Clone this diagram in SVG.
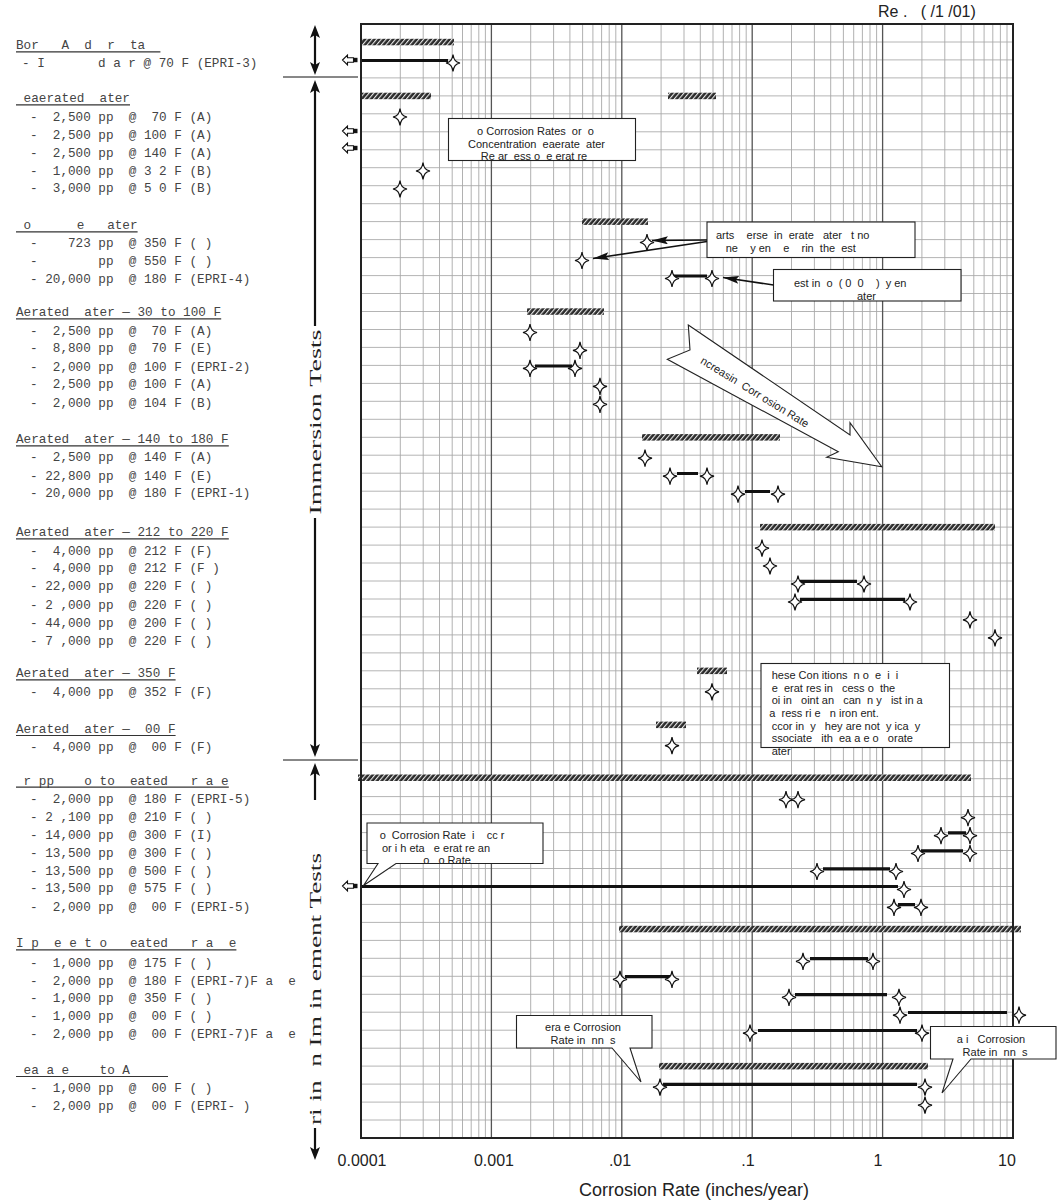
<svg xmlns="http://www.w3.org/2000/svg" width="1060" height="1202" viewBox="0 0 1060 1202">
<style>
.m{font-family:"Liberation Mono","DejaVu Sans Mono",monospace;font-size:12.67px;fill:#444;white-space:pre}
.s{font-family:"Liberation Sans",Arial,sans-serif;font-size:11px;fill:#222;white-space:pre}
.tk{font-family:"Liberation Sans",Arial,sans-serif;font-size:16px;fill:#222;text-anchor:middle}
.ttl{font-family:"Liberation Sans",Arial,sans-serif;font-size:18px;fill:#222;text-anchor:middle}
.ax{font-family:"Liberation Serif","Times New Roman",serif;font-size:16px;fill:#222;text-anchor:middle;white-space:pre}
.ul{stroke:#333;stroke-width:1.2}
.hg{stroke:#b4b4b4;stroke-width:1;fill:none}
.vg{stroke:#a8a8a8;stroke-width:0.9;fill:none}
.mj{stroke:#555;stroke-width:1.3;fill:none}
.bar{fill:url(#hatch)}
.dl{stroke:#111;stroke-width:3.2;fill:none}
.box{fill:#fff;stroke:#222;stroke-width:1.1}
.con{stroke:#111;stroke-width:1.6;fill:none;marker-end:url(#ah)}
.va{stroke:#111;stroke-width:2.2}
</style>
<defs>
<pattern id="hatch" width="3.6" height="10" patternUnits="userSpaceOnUse" patternTransform="rotate(40)">
<rect width="3.6" height="10" fill="#2b2b2b"/><rect width="1.1" height="10" fill="#fff" opacity="0.9"/>
</pattern>
<path id="dm" d="M0,-8.5 C0.8,-3 2.5,-1 7,0 C2.5,1 0.8,3 0,8.5 C-0.8,3 -2.5,1 -7,0 C-2.5,-1 -0.8,-3 0,-8.5Z" fill="#fff" stroke="#111" stroke-width="1.2"/>
<g id="la"><path d="M-8,0 L-3,-5 L-3,-2.2 L3,-2.2 L3,2.2 L-3,2.2 L-3,5 Z" fill="#fff" stroke="#111" stroke-width="1.1"/><rect x="3.5" y="-2.2" width="3.5" height="4.4" fill="#111"/></g>
<marker id="ah" viewBox="0 0 16 8" refX="16" refY="4" markerWidth="16" markerHeight="8" markerUnits="userSpaceOnUse" orient="auto"><path d="M0,0 L16,4 L0,8 L3,4 Z" fill="#111"/></marker>
</defs>
<rect width="1060" height="1202" fill="#fff"/>

<g id="grid">
<path class="hg" d="M361 42H1013M361 59.9H1013M361 77.9H1013M361 95.9H1013M361 113.8H1013M361 131.8H1013M361 149.8H1013M361 167.7H1013M361 185.7H1013M361 203.7H1013M361 221.6H1013M361 239.6H1013M361 257.6H1013M361 275.6H1013M361 293.5H1013M361 311.5H1013M361 329.5H1013M361 347.4H1013M361 365.4H1013M361 383.4H1013M361 401.3H1013M361 419.3H1013M361 437.3H1013M361 455.2H1013M361 473.2H1013M361 491.2H1013M361 509.1H1013M361 527.1H1013M361 545.1H1013M361 563H1013M361 581H1013M361 599H1013M361 616.9H1013M361 634.9H1013M361 652.9H1013M361 670.8H1013M361 688.8H1013M361 706.8H1013M361 724.8H1013M361 742.7H1013M361 760.7H1013M361 778.7H1013M361 796.6H1013M361 814.6H1013M361 832.6H1013M361 850.5H1013M361 868.5H1013M361 886.5H1013M361 904.4H1013M361 922.4H1013M361 940.4H1013M361 958.3H1013M361 976.3H1013M361 994.3H1013M361 1012.2H1013M361 1030.2H1013M361 1048.2H1013M361 1066.1H1013M361 1084.1H1013M361 1102.1H1013M361 1120H1013"/>
<path class="vg" d="M400.3 24V1138M423.2 24V1138M439.5 24V1138M452.2 24V1138M462.5 24V1138M471.2 24V1138M478.8 24V1138M485.4 24V1138M530.7 24V1138M553.6 24V1138M569.9 24V1138M582.6 24V1138M592.9 24V1138M601.6 24V1138M609.2 24V1138M615.8 24V1138M661.1 24V1138M684 24V1138M700.3 24V1138M713 24V1138M723.3 24V1138M732 24V1138M739.6 24V1138M746.2 24V1138M791.5 24V1138M814.4 24V1138M830.7 24V1138M843.4 24V1138M853.7 24V1138M862.4 24V1138M870 24V1138M876.6 24V1138M921.9 24V1138M944.8 24V1138M961.1 24V1138M973.8 24V1138M984.1 24V1138M992.8 24V1138M1000.4 24V1138M1007 24V1138"/>
<path class="mj" d="M491.4 24V1138M621.8 24V1138M752.2 24V1138M882.6 24V1138"/>
</g>

<g id="bars">
<rect class="bar" x="361" y="38.8" width="93" height="6.5"/>
<rect class="bar" x="361" y="92.7" width="70" height="6.5"/>
<rect class="bar" x="668" y="92.7" width="48" height="6.5"/>
<rect class="bar" x="582" y="218.4" width="66" height="6.5"/>
<rect class="bar" x="527" y="308.3" width="77" height="6.5"/>
<rect class="bar" x="642" y="434.1" width="138" height="6.5"/>
<rect class="bar" x="760" y="523.9" width="235" height="6.5"/>
<rect class="bar" x="697" y="667.6" width="30" height="6.5"/>
<rect class="bar" x="656" y="721.6" width="30" height="6.5"/>
<rect class="bar" x="358" y="774.5" width="613" height="6.5"/>
<rect class="bar" x="619" y="925.8" width="402" height="6.5"/>
<rect class="bar" x="659" y="1062.9" width="269" height="6.5"/>
</g>

<g id="ranges">
<path class="dl" d="M361 60.5H448M673 276H707M535 366H572M677 473.5H698M745 491.5H770M800 581.3H857M800 599.3H905M948 832.8H966M921 850.8H963M823 868.8H890M361 886.5H898M898 904.7H915M810 958.6H868M625 976.6H670M795 994.6H887M908 1012.5H1007M758 1030.5H917M663 1084.4H917"/>
</g>

<g id="points">
<use href="#dm" x="453" y="63"/>
<use href="#dm" x="400" y="117"/>
<use href="#dm" x="423" y="171"/>
<use href="#dm" x="400" y="189"/>
<use href="#dm" x="647" y="242.5"/>
<use href="#dm" x="582" y="260.5"/>
<use href="#dm" x="672" y="278.5"/>
<use href="#dm" x="712" y="278.5"/>
<use href="#dm" x="530" y="332.5"/>
<use href="#dm" x="580" y="350.4"/>
<use href="#dm" x="530" y="368.4"/>
<use href="#dm" x="575" y="368.4"/>
<use href="#dm" x="600" y="386.4"/>
<use href="#dm" x="600" y="404.3"/>
<use href="#dm" x="645" y="458.2"/>
<use href="#dm" x="670" y="476.2"/>
<use href="#dm" x="707" y="476.2"/>
<use href="#dm" x="738" y="494.2"/>
<use href="#dm" x="778" y="494.2"/>
<use href="#dm" x="762" y="548.1"/>
<use href="#dm" x="770" y="566"/>
<use href="#dm" x="798" y="584"/>
<use href="#dm" x="864" y="584"/>
<use href="#dm" x="795" y="602"/>
<use href="#dm" x="910" y="602"/>
<use href="#dm" x="970" y="619.9"/>
<use href="#dm" x="995" y="637.9"/>
<use href="#dm" x="712" y="691.8"/>
<use href="#dm" x="672" y="745.7"/>
<use href="#dm" x="786" y="799.6"/>
<use href="#dm" x="798" y="799.6"/>
<use href="#dm" x="968" y="817.6"/>
<use href="#dm" x="941" y="835.6"/>
<use href="#dm" x="970" y="835.6"/>
<use href="#dm" x="918" y="853.5"/>
<use href="#dm" x="970" y="853.5"/>
<use href="#dm" x="817" y="871.5"/>
<use href="#dm" x="896" y="871.5"/>
<use href="#dm" x="904" y="889.5"/>
<use href="#dm" x="894" y="907.4"/>
<use href="#dm" x="921" y="907.4"/>
<use href="#dm" x="803" y="961.3"/>
<use href="#dm" x="873" y="961.3"/>
<use href="#dm" x="620" y="979.3"/>
<use href="#dm" x="672" y="979.3"/>
<use href="#dm" x="789" y="997.3"/>
<use href="#dm" x="899" y="997.3"/>
<use href="#dm" x="900" y="1015.2"/>
<use href="#dm" x="1019" y="1015.2"/>
<use href="#dm" x="750" y="1033.2"/>
<use href="#dm" x="922" y="1033.2"/>
<use href="#dm" x="660" y="1087.1"/>
<use href="#dm" x="925" y="1087.1"/>
<use href="#dm" x="925" y="1105.1"/>
<use href="#la" x="350.5" y="60"/>
<use href="#la" x="350.5" y="131"/>
<use href="#la" x="350.5" y="148"/>
<use href="#la" x="350.5" y="886"/>
</g>

<rect x="361" y="24" width="652" height="1114" fill="none" stroke="#222" stroke-width="2"/>

<g id="note-deaerated">
<rect class="box" x="448.5" y="118.5" width="187" height="42"/>
<text class="s" x="535.5" y="134.7" text-anchor="middle">o Corrosion Rates  or  o</text>
<text class="s" x="536.5" y="148" text-anchor="middle">Concentration  eaerate  ater</text>
<text class="s" x="534" y="160" text-anchor="middle">Re ar  ess o  e erat re</text>
</g>

<g id="note-parts">
<rect class="box" x="707" y="222" width="208" height="35.5"/>
<text class="s" x="716" y="239">arts    erse  in  erate   ater   t no</text>
<text class="s" x="725.7" y="252">ne    y en    e    rin  the  est</text>
</g>

<g id="note-testing">
<rect class="box" x="773.5" y="269.5" width="187.5" height="31.5"/>
<text class="s" x="794" y="287">est in  o  ( 0  0    )  y en</text>
<text class="s" x="857" y="300.3">ater</text>
</g>

<g id="trend-arrow">
<polygon points="688.3,325 850,435 850,422.7 881.7,466.7 826.7,457.3 838.3,451.7 667.3,359.3 690,350" fill="#fff" stroke="#222" stroke-width="1.1"/>
<text class="s" x="0" y="4" text-anchor="middle" transform="translate(755,392) rotate(31.5)">ncreasin  Corr osion Rate</text>
</g>

<g id="note-conditions">
<rect class="box" x="761" y="663.5" width="188.5" height="84"/>
<text class="s" x="771.7" y="679">hese Con itions  n o  e  i  i</text>
<text class="s" x="771.7" y="691.5">e  erat res in   cess o  the</text>
<text class="s" x="771.7" y="704.2">oi in   oint an   can  n y   ist in a</text>
<text class="s" x="769.3" y="716.8">a  ress ri e   n iron ent.</text>
<text class="s" x="771.7" y="729.5">ccor in  y   hey are not  y ica  y</text>
<text class="s" x="771.7" y="742.1">ssociate   ith  ea a e o   orate</text>
<text class="s" x="771.7" y="754.8">ater</text>
</g>

<g id="note-nocorrosion">
<path class="box" d="M367,823 H543 V863.5 H396 L363.5,885.5 L378,863.5 H367 Z"/>
<text class="s" x="442" y="839" text-anchor="middle">o  Corrosion Rate  i    cc r</text>
<text class="s" x="436" y="851.5" text-anchor="middle">or i h eta   e erat re an</text>
<text class="s" x="447" y="863.5" text-anchor="middle">o   o Rate</text>
</g>

<g id="note-average">
<path class="box" d="M516.5,1015.5 H652 V1048 H630 L641,1082 L612,1048 H516.5 Z"/>
<text class="s" x="583" y="1031" text-anchor="middle">era e Corrosion</text>
<text class="s" x="583" y="1044" text-anchor="middle">Rate in  nn  s</text>
</g>

<g id="note-maximum">
<path class="box" d="M930.5,1026.5 H1056 V1059 H971 L942,1093 L953,1059 H930.5 Z"/>
<text class="s" x="991" y="1043" text-anchor="middle">a i   Corrosion</text>
<text class="s" x="995" y="1055.5" text-anchor="middle">Rate in  nn  s</text>
</g>

<g id="connectors">
<path class="con" d="M707,240 L652,240.5"/>
<path class="con" d="M707,241.5 L593,258.5"/>
<path class="con" d="M773.5,285 L723,277.5"/>
</g>

<g id="axis-x">
<text class="tk" x="362" y="1166">0.0001</text>
<text class="tk" x="494" y="1166">0.001</text>
<text class="tk" x="620" y="1166">.01</text>
<text class="tk" x="748" y="1166">.1</text>
<text class="tk" x="878" y="1166">1</text>
<text class="tk" x="1007" y="1166">10</text>
<text class="ttl" x="694" y="1196">Corrosion Rate (inches/year)</text>
</g>

<g id="revision">
<text x="878" y="17" style="font-family:'Liberation Sans',Arial,sans-serif;font-size:16px;fill:#222;white-space:pre">Re .   ( /1 /01)</text>
</g>

<g id="axis-y">
<line x1="283" y1="77" x2="358" y2="77" stroke="#111" stroke-width="1"/>
<line x1="283" y1="760" x2="358" y2="760" stroke="#111" stroke-width="1"/>
<line class="va" x1="315" y1="32" x2="315" y2="68"/>
<polygon points="315,25 310,38 315,35 320,38" fill="#111"/>
<polygon points="315,75 310,62 315,65 320,62" fill="#111"/>
<line class="va" x1="315" y1="87" x2="315" y2="326"/>
<line class="va" x1="315" y1="518" x2="315" y2="750"/>
<polygon points="315,80 310,93 315,90 320,93" fill="#111"/>
<polygon points="315,757 310,744 315,747 320,744" fill="#111"/>
<text class="ax" x="0" y="0" transform="translate(320.5,422) rotate(-90)" textLength="185" lengthAdjust="spacingAndGlyphs">Immersion Tests</text>
<line class="va" x1="315" y1="770" x2="315" y2="800"/>
<polygon points="315,763 310,776 315,773 320,776" fill="#111"/>
<line class="va" x1="315" y1="1128" x2="315" y2="1153"/>
<polygon points="315,1160 310,1147 315,1150 320,1147" fill="#111"/>
<text class="ax" x="0" y="0" transform="translate(320.5,989) rotate(-90)" textLength="272" lengthAdjust="spacingAndGlyphs">ri in  n Im in ement Tests</text>
</g>

<g id="grp-boric">
<text class="m" x="16" y="49">Bor   A  d  r  ta</text>
<line class="ul" x1="16" y1="51.8" x2="160.4" y2="51.8"/>
<text class="m" x="22" y="67.3">- I       d a r @ 70 F (EPRI-3)</text>
</g>
<g id="grp-deaerated">
<text class="m" x="16" y="102.3"> eaerated  ater</text>
<line class="ul" x1="16" y1="104.8" x2="130" y2="104.8"/>
<text class="m" x="30" y="121.3">-  2,500 pp  @  70 F (A)</text>
<text class="m" x="30" y="139">-  2,500 pp  @ 100 F (A)</text>
<text class="m" x="30" y="156.7">-  2,500 pp  @ 140 F (A)</text>
<text class="m" x="30" y="174.7">-  1,000 pp  @ 3 2 F (B)</text>
<text class="m" x="30" y="192.3">-  3,000 pp  @ 5 0 F (B)</text>
</g>
<g id="grp-low">
<text class="m" x="16" y="229"> o      e   ater</text>
<line class="ul" x1="16" y1="231.8" x2="137.6" y2="231.8"/>
<text class="m" x="30" y="247.3">-    723 pp  @ 350 F ( )</text>
<text class="m" x="30" y="265">-        pp  @ 550 F ( )</text>
<text class="m" x="30" y="283">- 20,000 pp  @ 180 F (EPRI-4)</text>
</g>
<g id="grp-aer-30">
<text class="m" x="16" y="316.3">Aerated  ater — 30 to 100 F</text>
<line class="ul" x1="16" y1="318.8" x2="221.2" y2="318.8"/>
<text class="m" x="30" y="334.7">-  2,500 pp  @  70 F (A)</text>
<text class="m" x="30" y="352.3">-  8,800 pp  @  70 F (E)</text>
<text class="m" x="30" y="370.7">-  2,000 pp  @ 100 F (EPRI-2)</text>
<text class="m" x="30" y="388.3">-  2,500 pp  @ 100 F (A)</text>
<text class="m" x="30" y="406.7">-  2,000 pp  @ 104 F (B)</text>
</g>
<g id="grp-aer-140">
<text class="m" x="16" y="443.3">Aerated  ater — 140 to 180 F</text>
<line class="ul" x1="16" y1="445.8" x2="228.8" y2="445.8"/>
<text class="m" x="30" y="461.3">-  2,500 pp  @ 140 F (A)</text>
<text class="m" x="30" y="479.7">- 22,800 pp  @ 140 F (E)</text>
<text class="m" x="30" y="497.3">- 20,000 pp  @ 180 F (EPRI-1)</text>
</g>
<g id="grp-aer-212">
<text class="m" x="16" y="536.3">Aerated  ater — 212 to 220 F</text>
<line class="ul" x1="16" y1="538.8" x2="228.8" y2="538.8"/>
<text class="m" x="30" y="554.7">-  4,000 pp  @ 212 F (F)</text>
<text class="m" x="30" y="572.3">-  4,000 pp  @ 212 F (F )</text>
<text class="m" x="30" y="590">- 22,000 pp  @ 220 F ( )</text>
<text class="m" x="30" y="609">- 2 ,000 pp  @ 220 F ( )</text>
<text class="m" x="30" y="626.7">- 44,000 pp  @ 200 F ( )</text>
<text class="m" x="30" y="644.7">- 7 ,000 pp  @ 220 F ( )</text>
</g>
<g id="grp-aer-350">
<text class="m" x="16" y="677.3">Aerated  ater — 350 F</text>
<line class="ul" x1="16" y1="679.8" x2="175.6" y2="679.8"/>
<text class="m" x="30" y="695.7">-  4,000 pp  @ 352 F (F)</text>
</g>
<g id="grp-aer-00">
<text class="m" x="16" y="733">Aerated  ater —  00 F</text>
<line class="ul" x1="16" y1="735.5" x2="175.6" y2="735.5"/>
<text class="m" x="30" y="751.3">-  4,000 pp  @  00 F (F)</text>
</g>
<g id="grp-crud">
<text class="m" x="16" y="784.7"> r pp    o to  eated   r a e</text>
<line class="ul" x1="16" y1="787.2" x2="228.8" y2="787.2"/>
<text class="m" x="30" y="803">-  2,000 pp  @ 180 F (EPRI-5)</text>
<text class="m" x="30" y="820.7">- 2 ,100 pp  @ 210 F ( )</text>
<text class="m" x="30" y="839">- 14,000 pp  @ 300 F (I)</text>
<text class="m" x="30" y="856.7">- 13,500 pp  @ 300 F ( )</text>
<text class="m" x="30" y="874.7">- 13,500 pp  @ 500 F ( )</text>
<text class="m" x="30" y="892.3">- 13,500 pp  @ 575 F ( )</text>
<text class="m" x="30" y="910.7">-  2,000 pp  @  00 F (EPRI-5)</text>
</g>
<g id="grp-impurity">
<text class="m" x="16" y="947.3">I p  e e t o   eated   r a  e</text>
<line class="ul" x1="16" y1="949.8" x2="236.4" y2="949.8"/>
<text class="m" x="30" y="967.3">-  1,000 pp  @ 175 F ( )</text>
<text class="m" x="30" y="984.7">-  2,000 pp  @ 180 F (EPRI-7)F a  e</text>
<text class="m" x="30" y="1002.3">-  1,000 pp  @ 350 F ( )</text>
<text class="m" x="30" y="1020">-  1,000 pp  @  00 F ( )</text>
<text class="m" x="30" y="1038">-  2,000 pp  @  00 F (EPRI-7)F a  e</text>
</g>
<g id="grp-seawater">
<text class="m" x="16" y="1074"> ea a e    to A</text>
<line class="ul" x1="16" y1="1076.5" x2="168" y2="1076.5"/>
<text class="m" x="30" y="1092.3">-  1,000 pp  @  00 F ( )</text>
<text class="m" x="30" y="1110">-  2,000 pp  @  00 F (EPRI- )</text>
</g>
</svg>
